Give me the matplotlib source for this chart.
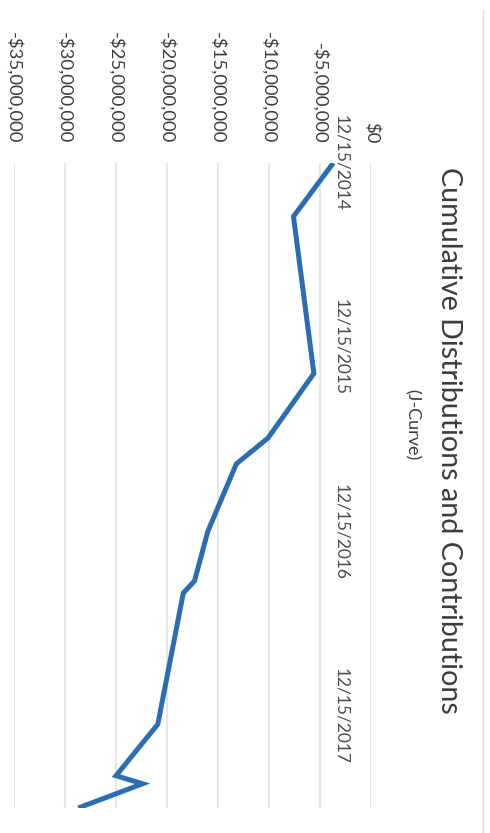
import numpy as np
import pandas as pd
import matplotlib
matplotlib.use('Agg')
import matplotlib.pyplot as plt
import matplotlib.dates as mdates
from matplotlib.lines import Line2D
from matplotlib.ticker import FuncFormatter

plt.rcParams['font.family'] = ['Lato', 'DejaVu Sans']

# cumulative net cash flow (distributions minus contributions)
flow_dates = ['2014-12-15', '2015-03-31', '2016-02-05', '2016-06-12', '2016-08-02',
              '2016-12-14', '2017-03-22', '2017-04-15', '2017-12-31', '2018-04-12',
              '2018-04-28', '2018-06-15']
cumulative = [-3.7e6, -7.6e6, -5.6e6, -10.1e6, -13.2e6,
              -16.0e6, -17.3e6, -18.4e6, -20.9e6, -25.0e6,
              -22.4e6, -28.7e6]

value_ticks = [-35e6, -30e6, -25e6, -20e6, -15e6, -10e6, -5e6, 0]
date_ticks = ['2014-12-15', '2015-12-15', '2016-12-15', '2017-12-15']

title = 'Cumulative Distributions and Contributions'
subtitle = '(J-Curve)'

text_color = '#3c3c3c'
line_color = '#2b6db3'
grid_color = '#e2e2e2'

dates = pd.to_datetime(flow_dates)

fig = plt.figure(figsize=(4.9, 8.33), dpi=100)
# the page is turned on its side: values run left-right, time runs downward
ax = fig.add_axes([14 / 490, 1 - 808 / 833, (371 - 14) / 490, (808 - 163) / 833])

ax.plot(cumulative, dates, color=line_color, lw=3.6, solid_joinstyle='miter',
        solid_capstyle='butt', zorder=3)

ax.set_xlim(value_ticks[0], value_ticks[-1])
ax.set_ylim(dates[-1], dates[0])

ax.set_xticks(value_ticks)
ax.xaxis.set_major_formatter(FuncFormatter(
    lambda v, p: '$0' if v == 0 else ('-' if v < 0 else '') + '${:,.0f}'.format(abs(v))))
ax.xaxis.tick_top()
ax.tick_params(axis='x', length=0, pad=14, labelsize=13.3, labelcolor=text_color,
               labelrotation=-90)
for lbl in ax.get_xticklabels():
    lbl.set_va('bottom')

ax.set_yticks(pd.to_datetime(date_ticks))
ax.yaxis.set_major_formatter(mdates.DateFormatter('%m/%d/%Y'))
ax.yaxis.tick_right()
ax.tick_params(axis='y', length=0, pad=-27, labelsize=12.5, labelcolor='#4a4a4a',
               labelrotation=-90)
for lbl in ax.get_yticklabels():
    lbl.set_va('center')

ax.grid(axis='x', color=grid_color, lw=1.2, zorder=0)
ax.grid(axis='y', visible=False)
for s in ax.spines.values():
    s.set_visible(False)

fig.text(449 / 490, 1 - 440 / 833, title, rotation=-90, ha='center', va='center',
         fontsize=20.6, color=text_color)
fig.text(412 / 490, 1 - 425 / 833, subtitle, rotation=-90, ha='center', va='center',
         fontsize=13, color=text_color)

# chart area border
fig.add_artist(Line2D([483 / 490, 483 / 490], [0, 1 - 10 / 833], transform=fig.transFigure,
                      color='#dddddd', lw=1.0))

fig.savefig('out.png', dpi=100)
